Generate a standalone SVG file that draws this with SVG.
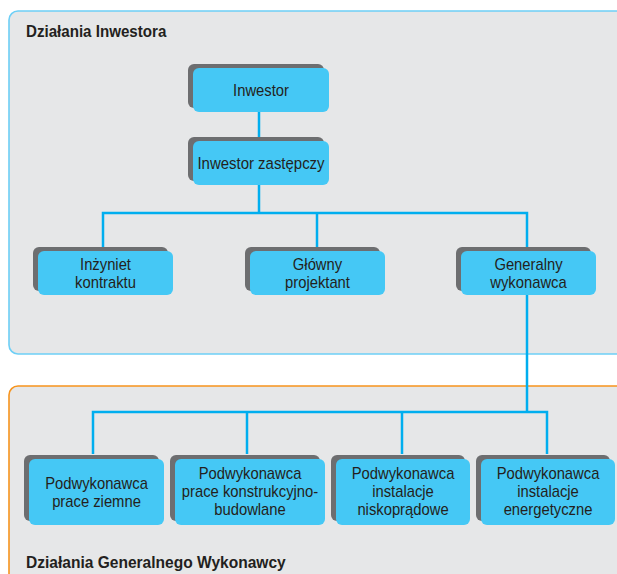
<svg xmlns="http://www.w3.org/2000/svg" width="617" height="574" viewBox="0 0 617 574">
<style>
.panel{fill:#e6e7e8;stroke-width:1.6}
.sh{fill:#6d6e70}
.bx{fill:#45c8f5}
.t{font-family:"Liberation Sans",Arial,sans-serif;font-size:17px;fill:#231f20;text-anchor:middle}
.title{font-family:"Liberation Sans",Arial,sans-serif;font-size:17px;font-weight:bold;fill:#231f20}
.c{fill:none;stroke:#00aeef;stroke-width:2.5}
</style>
<rect width="617" height="574" fill="#ffffff"/>
<g id="panel-investor">
<rect class="panel" x="9" y="11" width="640" height="343" rx="9" stroke="#6dcff6"/>
<text class="title" transform="translate(26 37) scale(0.89 1)">Działania Inwestora</text>
</g>
<g id="panel-gw">
<rect class="panel" x="9" y="386" width="640" height="220" rx="9" stroke="#f7941d"/>
<text class="title" transform="translate(26 568) scale(0.915 1)">Działania Generalnego Wykonawcy</text>
</g>
<g id="connectors">
<path class="c" d="M259 112V142M259 185V213M103 247V213H527V247M317 213V247M527 295V412M93 454V412H547V454M247 412V454M402 412V454"/>
</g>
<g id="inwestor">
<rect class="sh" x="188" y="64" width="136" height="44" rx="6"/>
<rect class="bx" x="193" y="68" width="136" height="44" rx="6"/>
<text class="t" transform="translate(261 96) scale(0.87 1)">Inwestor</text>
</g>
<g id="inwestor-zastepczy">
<rect class="sh" x="188" y="137" width="136" height="44" rx="6"/>
<rect class="bx" x="193" y="141" width="136" height="44" rx="6"/>
<text class="t" transform="translate(261 169) scale(0.88 1)">Inwestor zastępczy</text>
</g>
<g id="inzyniet">
<rect class="sh" x="33" y="247" width="135" height="44" rx="6"/>
<rect class="bx" x="38" y="251" width="135" height="44" rx="6"/>
<text class="t" transform="translate(105.5 270) scale(0.87 1)">Inżyniet</text>
<text class="t" transform="translate(105.5 288) scale(0.87 1)">kontraktu</text>
</g>
<g id="glowny-projektant">
<rect class="sh" x="245" y="247" width="135" height="44" rx="6"/>
<rect class="bx" x="250" y="251" width="135" height="44" rx="6"/>
<text class="t" transform="translate(317.5 270) scale(0.87 1)">Główny</text>
<text class="t" transform="translate(317.5 288) scale(0.87 1)">projektant</text>
</g>
<g id="generalny-wykonawca">
<rect class="sh" x="456" y="247" width="135" height="44" rx="6"/>
<rect class="bx" x="461" y="251" width="135" height="44" rx="6"/>
<text class="t" transform="translate(528.5 270) scale(0.87 1)">Generalny</text>
<text class="t" transform="translate(528.5 288) scale(0.87 1)">wykonawca</text>
</g>
<g id="pw-ziemne">
<rect class="sh" x="24" y="455" width="135" height="66" rx="6"/>
<rect class="bx" x="29" y="459" width="135" height="66" rx="6"/>
<text class="t" transform="translate(96.5 489) scale(0.87 1)">Podwykonawca</text>
<text class="t" transform="translate(96.5 507) scale(0.87 1)">prace ziemne</text>
</g>
<g id="pw-konstrukcyjne">
<rect class="sh" x="170" y="455" width="150" height="66" rx="6"/>
<rect class="bx" x="175" y="459" width="150" height="66" rx="6"/>
<text class="t" transform="translate(250 479) scale(0.87 1)">Podwykonawca</text>
<text class="t" transform="translate(250 497) scale(0.87 1)">prace konstrukcyjno-</text>
<text class="t" transform="translate(250 515) scale(0.87 1)">budowlane</text>
</g>
<g id="pw-niskopradowe">
<rect class="sh" x="331" y="455" width="134" height="66" rx="6"/>
<rect class="bx" x="336" y="459" width="134" height="66" rx="6"/>
<text class="t" transform="translate(403 479) scale(0.87 1)">Podwykonawca</text>
<text class="t" transform="translate(403 497) scale(0.87 1)">instalacje</text>
<text class="t" transform="translate(403 515) scale(0.87 1)">niskoprądowe</text>
</g>
<g id="pw-energetyczne">
<rect class="sh" x="476" y="455" width="134" height="66" rx="6"/>
<rect class="bx" x="481" y="459" width="134" height="66" rx="6"/>
<text class="t" transform="translate(548 479) scale(0.87 1)">Podwykonawca</text>
<text class="t" transform="translate(548 497) scale(0.87 1)">instalacje</text>
<text class="t" transform="translate(548 515) scale(0.87 1)">energetyczne</text>
</g>
</svg>
